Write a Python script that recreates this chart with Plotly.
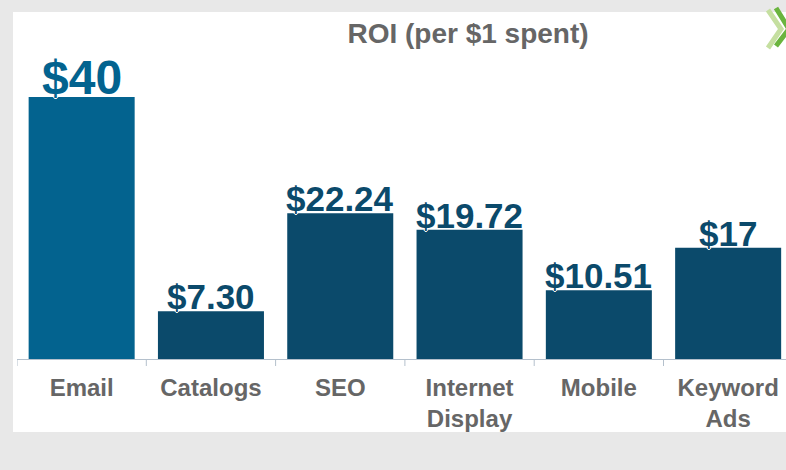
import plotly.graph_objects as go

categories = ["Email", "Catalogs", "SEO", "Internet<br>Display", "Mobile", "Keyword<br>Ads"]
values = [40, 7.30, 22.24, 19.72, 10.51, 17]
value_labels = ["$40", "$7.30", "$22.24", "$19.72", "$10.51", "$17"]
bar_colors = ["#03638F", "#0B4A6B", "#0B4A6B", "#0B4A6B", "#0B4A6B", "#0B4A6B"]
label_sizes = [48, 35, 35, 35, 35, 35]

FONT = "Liberation Sans, Arial, sans-serif"
W, H = 786, 470
ml, mr, mt, mb = 17, 0, 40, 111

fig = go.Figure()
fig.add_trace(go.Bar(
    x=list(range(len(categories))), y=values,
    marker=dict(color=bar_colors, line=dict(width=0)),
    width=0.82, hoverinfo="skip",
))

WHITE_OUTLINE = "1px 0 0 #fff, -1px 0 0 #fff, 0 1px 0 #fff, 0 -1px 0 #fff"
for i, (v, lab, c, s) in enumerate(zip(values, value_labels, bar_colors, label_sizes)):
    fig.add_annotation(
        x=i, y=v, xref="x", yref="y", text=f"<b>{lab}</b>", showarrow=False,
        yanchor="bottom", yshift=-round(s * 0.19),
        font=dict(family=FONT, size=s, color=c, shadow=WHITE_OUTLINE),
    )

pw = W - ml - mr
ph = H - mt - mb
def px_x(p):
    return (p - ml) / pw
def px_y(q):
    return (H - mb - q) / ph

# white panel over grey background
fig.add_shape(type="rect", xref="paper", yref="paper",
              x0=px_x(13), x1=px_x(790), y0=px_y(432), y1=px_y(12),
              fillcolor="white", line=dict(width=0), layer="below")

# green chevron logo top-right
fig.add_shape(type="path", xref="paper", yref="paper",
              path=f"M {px_x(768)} {px_y(10)} L {px_x(781)} {px_y(29)} L {px_x(768)} {px_y(48)}",
              line=dict(color="#c5dfa0", width=5), layer="above")
fig.add_shape(type="path", xref="paper", yref="paper",
              path=f"M {px_x(776)} {px_y(8)} L {px_x(789)} {px_y(29)} L {px_x(776)} {px_y(46)}",
              line=dict(color="#6ab43e", width=5), layer="above")

fig.update_layout(
    width=W, height=H,
    margin=dict(l=ml, r=mr, t=mt, b=mb, pad=0),
    paper_bgcolor="#e8e8e8", plot_bgcolor="rgba(0,0,0,0)",
    showlegend=False,
    title=dict(text="<b>ROI (per $1 spent)</b>", x=468 / W, xanchor="center",
               y=1 - 33 / H, yanchor="middle", xref="container", yref="container",
               font=dict(family=FONT, size=28, color="#666666")),
    xaxis=dict(
        tickmode="array", tickvals=list(range(len(categories))), ticktext=[f"<b>{c}</b>" for c in categories],
        range=[-0.5, -0.5 + pw / 129.3],
        showline=True, linecolor="#b4c0cc", linewidth=1,
        ticks="", showgrid=False, zeroline=False,
        tickfont=dict(family=FONT, size=24, color="#666666"),
        ticklabelstandoff=7, fixedrange=True,
    ),
    yaxis=dict(range=[0, ph / 6.55], visible=False, showgrid=False, zeroline=False),
)

# boundary tick marks
for b in range(len(categories)):
    fig.add_shape(type="line", xref="x", yref="paper",
                  x0=b - 0.5, x1=b - 0.5, y0=0, y1=-7 / ph,
                  line=dict(color="#b4c0cc", width=1))

fig.write_html("out.html", config={"displayModeBar": False},
               post_script="document.body.style.margin='0';document.body.style.overflow='hidden';")
